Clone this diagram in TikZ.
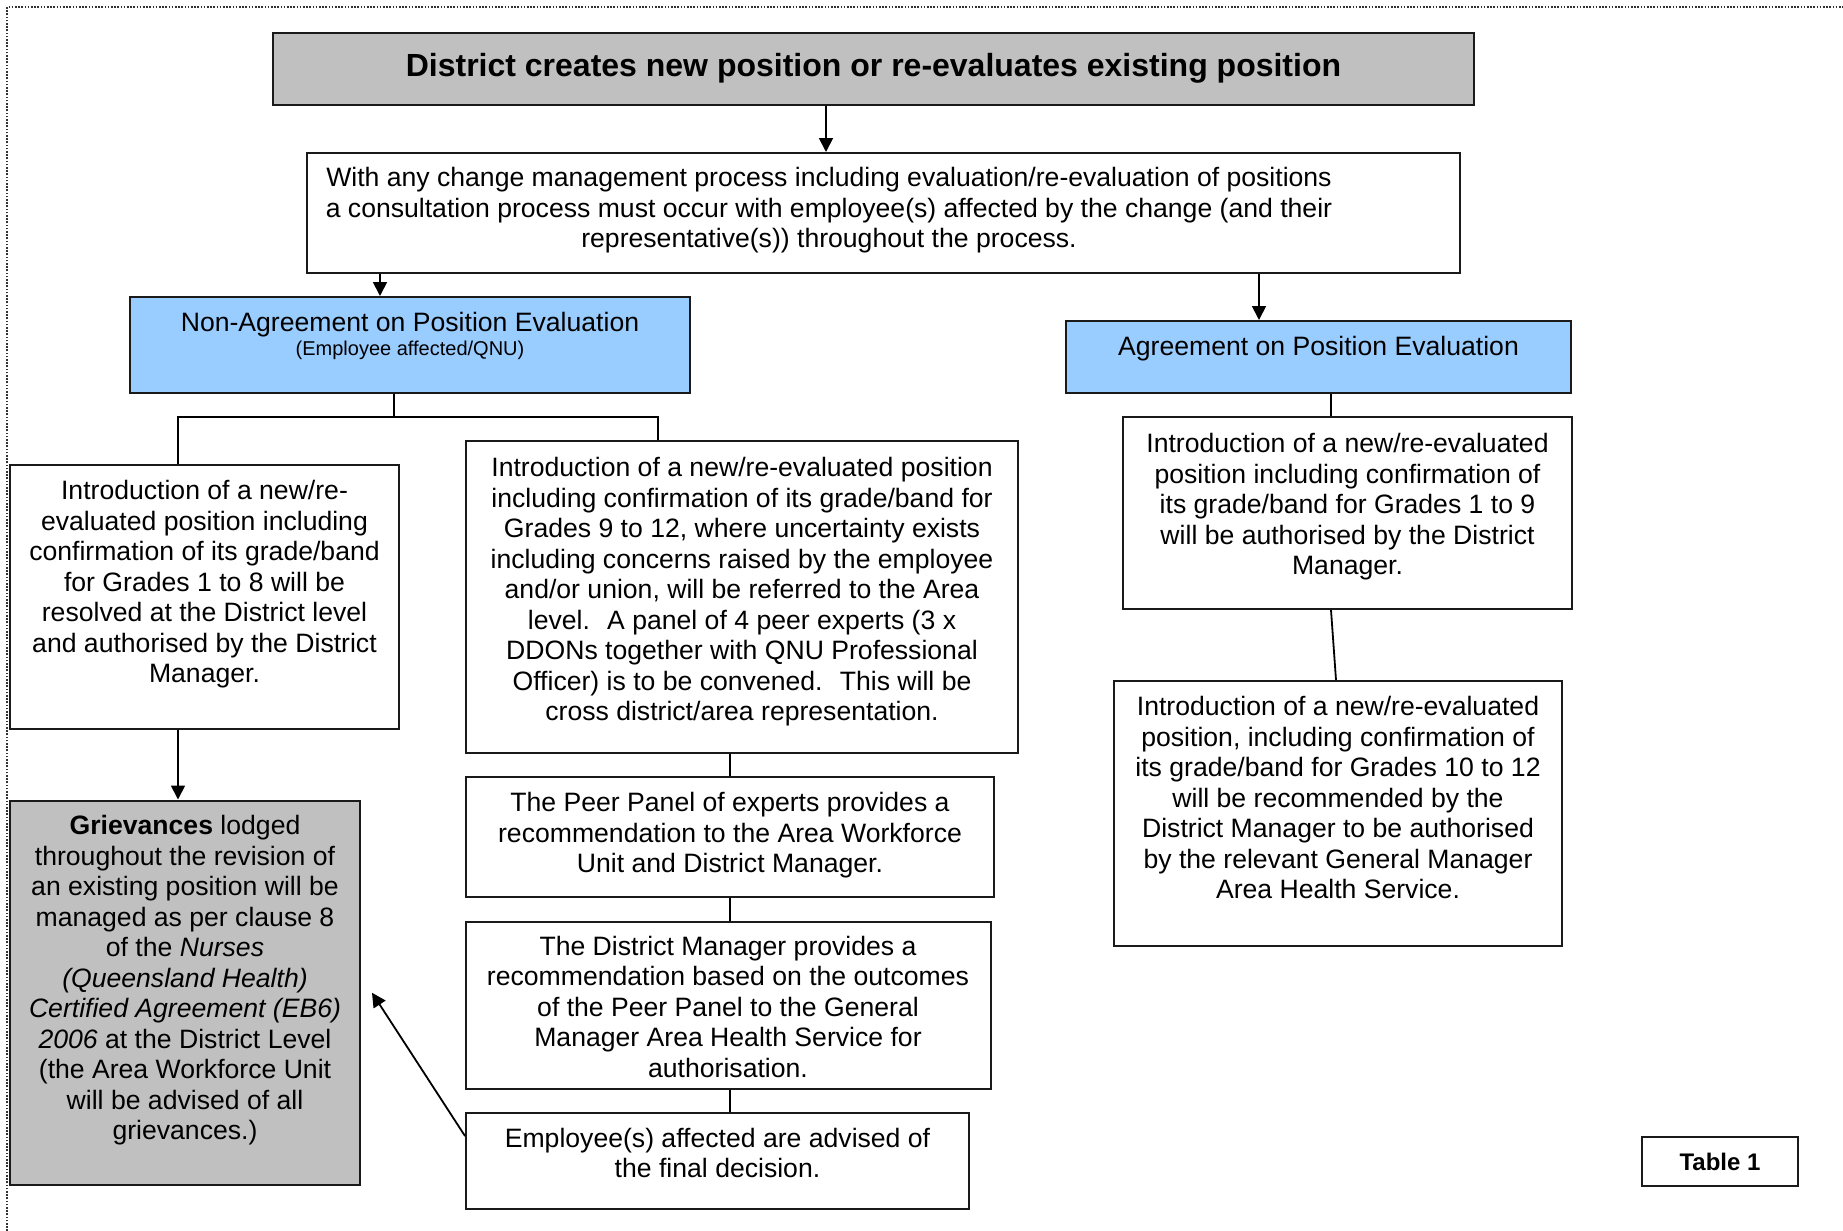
\documentclass[tikz,border=0pt]{standalone}
\usepackage{fontspec}
\setmainfont{Liberation Sans}
\usetikzlibrary{arrows.meta}
\definecolor{boxgray}{HTML}{C0C0C0}
\definecolor{boxblue}{HTML}{99CCFF}
\definecolor{edge}{HTML}{1A1A1A}
\tikzset{
  x=0.5pt, y=-0.5pt,
  box/.style={draw=edge, line width=1pt, rectangle, inner sep=0pt, fill=white},
  txt/.style={anchor=north, inner sep=0pt, align=center, font=\fontsize{13.3}{15.25}\selectfont},
  conn/.style={draw=black, line width=0.9pt},
  arr/.style={conn, -{Triangle[length=7pt, width=7pt]}},
  frame/.style={line width=0.8pt, dash pattern=on 0.8pt off 0.8pt, draw=black!80}
}
\begin{document}
\begin{tikzpicture}
\useasboundingbox (0,0) rectangle (1843,1231);
\draw[frame] (7,1231) -- (7,7) -- (1843,7);

% boxes
\node[box, fill=boxgray, minimum width=600.5pt, minimum height=36pt] (title) at (873.5,69) {};
\node[box, minimum width=576.5pt, minimum height=60pt] (consult) at (883.5,213) {};
\node[box, fill=boxblue, minimum width=280pt, minimum height=48pt] (nonag) at (410,345) {};
\node[box, fill=boxblue, minimum width=252.5pt, minimum height=36pt] (agree) at (1318.5,357) {};
\node[box, minimum width=194.5pt, minimum height=132pt] (lbox) at (204.5,597) {};
\node[box, fill=boxgray, minimum width=175pt, minimum height=192.25pt] (griev) at (185,992.75) {};
\node[box, minimum width=276pt, minimum height=156pt] (m1) at (742,597) {};
\node[box, minimum width=264pt, minimum height=59.6pt] (m2) at (730,837) {};
\node[box, minimum width=262.5pt, minimum height=83.5pt] (m3) at (728.5,1005.5) {};
\node[box, minimum width=251.5pt, minimum height=47.75pt] (m4) at (717.5,1161) {};
\node[box, minimum width=224.5pt, minimum height=96pt] (r1) at (1347.5,513) {};
\node[box, minimum width=224pt, minimum height=132.5pt] (r2) at (1338,813.5) {};
\node[box, minimum width=78pt, minimum height=24.5pt, font=\fontsize{12}{14}\selectfont\bfseries] (tab) at (1720,1161.5) {Table 1};

% texts
\node[txt, font=\fontsize{16}{18}\selectfont\bfseries] (title-t) at (873.5,52.5) {District creates new position or re-evaluates existing position};
\node[txt] (consult-t) at (829,167) {With any change management process including evaluation/re-evaluation of positions\\a consultation process must occur with employee(s) affected by the change (and their\\representative(s)) throughout the process.};
\node[txt] (nonag-t) at (410,312) {Non-Agreement on Position Evaluation};
\node[txt, font=\fontsize{10}{12}\selectfont] (nonag-s) at (410,341) {(Employee affected/QNU)};
\node[txt] (agree-t) at (1318.5,336) {Agreement on Position Evaluation};
\node[txt] (lbox-t) at (204.5,480) {Introduction of a new/re-\\evaluated position including\\confirmation of its grade/band\\for Grades 1 to 8 will be\\resolved at the District level\\and authorised by the District\\Manager.};
\node[txt] (m1-t) at (742,457) {Introduction of a new/re-evaluated position\\including confirmation of its grade/band for\\Grades 9 to 12, where uncertainty exists\\including concerns raised by the employee\\and/or union, will be referred to the Area\\level.~ A panel of 4 peer experts (3 x\\DDONs together with QNU Professional\\Officer) is to be convened.~ This will be\\cross district/area representation.};
\node[txt] (m2-t) at (730,792) {The Peer Panel of experts provides a\\recommendation to the Area Workforce\\Unit and District Manager.};
\node[txt] (m3-t) at (728,935.5) {The District Manager provides a\\recommendation based on the outcomes\\of the Peer Panel to the General\\Manager Area Health Service for\\authorisation.};
\node[txt] (m4-t) at (717.5,1127.5) {Employee(s) affected are advised of\\the final decision.};
\node[txt] (griev-t) at (185,815) {\textbf{Grievances} lodged\\throughout the revision of\\an existing position will be\\managed as per clause 8\\of the \textit{Nurses}\\\textit{(Queensland Health)}\\\textit{Certified Agreement (EB6)}\\\textit{2006} at the District Level\\(the Area Workforce Unit\\will be advised of all\\grievances.)};
\node[txt] (r1-t) at (1347.5,433) {Introduction of a new/re-evaluated\\position including confirmation of\\its grade/band for Grades 1 to 9\\will be authorised by the District\\Manager.};
\node[txt] (r2-t) at (1338,696) {Introduction of a new/re-evaluated\\position, including confirmation of\\its grade/band for Grades 10 to 12\\will be recommended by the\\District Manager to be authorised\\by the relevant General Manager\\Area Health Service.};

% connectors
\draw[arr] ([xshift=-23.75pt]title.south) -- ([xshift=-28.75pt]consult.north);
\draw[arr] ([xshift=-251.75pt]consult.south) -- ([xshift=-15pt]nonag.north);
\draw[arr] ([xshift=187.75pt]consult.south) -- ([xshift=-29.75pt]agree.north);

\coordinate (split) at (394,417);
\coordinate (bl) at (178,417);
\coordinate (br) at (658,417);
\draw[conn] (split |- nonag.south) -- (split);
\draw[conn] (bl |- lbox.north) -- (bl) -- (br) -- (br |- m1.north);

\draw[arr] ([xshift=-13.25pt]lbox.south) -- ([xshift=-3.5pt]griev.north);
\draw[conn] ([xshift=-6pt]m1.south) -- (m2.north);
\draw[conn] (m2.south) -- ([xshift=0.75pt]m3.north);
\draw[conn] ([xshift=0.75pt]m3.south) -- ([xshift=6.25pt]m4.north);
\draw[arr] ([yshift=12.5pt]m4.west) -- ([xshift=5.5pt]griev.east);

\draw[conn] ([xshift=6.25pt]agree.south) -- ([xshift=-8.25pt]r1.north);
\draw[conn] ([xshift=-8.25pt]r1.south) -- ([xshift=-1pt]r2.north);
\end{tikzpicture}
\end{document}
